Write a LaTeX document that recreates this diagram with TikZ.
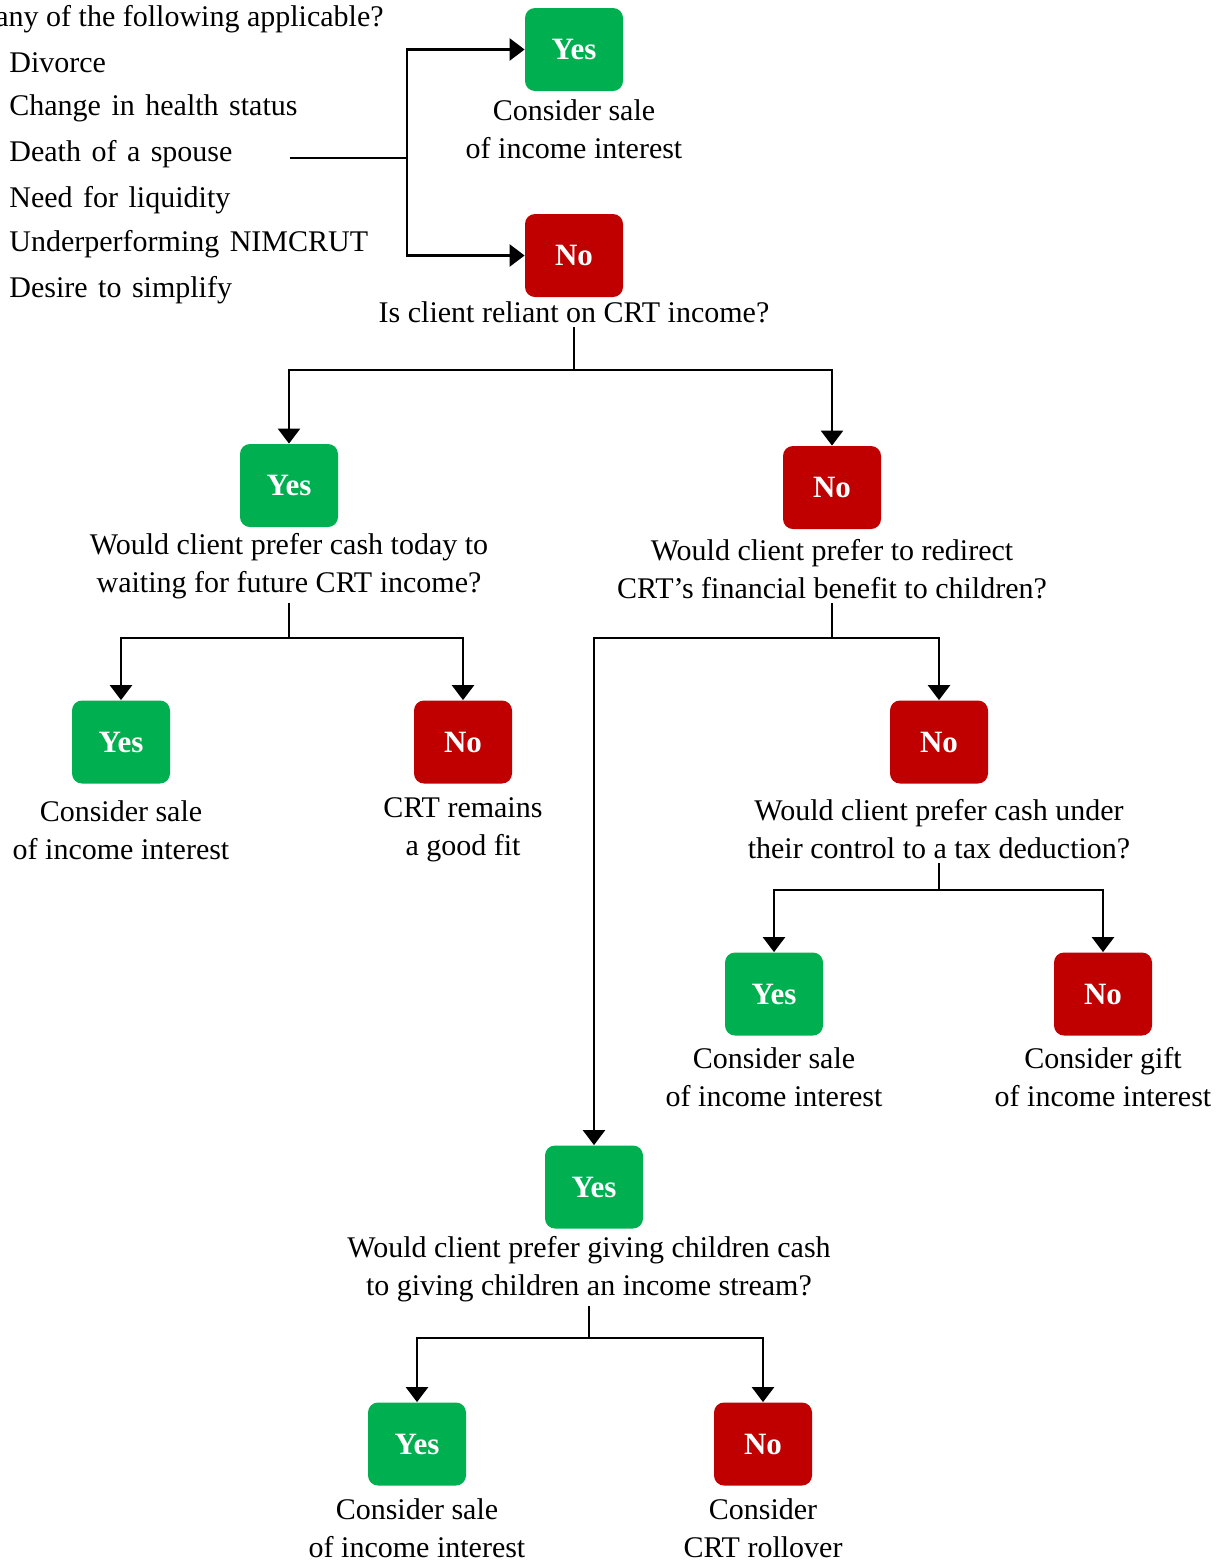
\documentclass[tikz,border=0pt]{standalone}
\usepackage{fontspec}
\setmainfont{Liberation Serif}
\newfontfamily\itemfont[WordSpace=1.4]{Liberation Serif}
\usetikzlibrary{arrows.meta}
\definecolor{yesgreen}{HTML}{00B050}
\definecolor{nored}{HTML}{C00000}
\begin{document}
\begin{tikzpicture}[x=0.5pt,y=-0.5pt,
 box/.style={rounded corners=5pt, minimum width=49pt, minimum height=41.5pt, text=white, font=\fontsize{15.5}{18}\selectfont\bfseries, inner sep=0pt},
 yesbox/.style={box, fill=yesgreen},
 nobox/.style={box, fill=nored},
 lbl/.style={align=center, font=\fontsize{15}{19}\selectfont, inner sep=2pt},
 item/.style={anchor=west, font=\itemfont\fontsize{15}{19}\selectfont, inner sep=0pt},
 arr/.style={line width=1.25pt, -{Triangle[width=11pt,length=7.5pt]}},
 ln/.style={line width=1.25pt}]
\useasboundingbox[fill=white] (0,0) rectangle (1228,1564);
\begin{scope}
\clip (0,0) rectangle (1228,1564);
\node[anchor=east, font=\fontsize{15}{19}\selectfont, inner sep=0pt] (title) at (384,19) {Are any of the following applicable?};
\end{scope}
\node[item] (i1) at (9,63) {Divorce};
\node[item] (i2) at (9,108) {Change in health status};
\node[item] (i3) at (9,154) {Death of a spouse};
\node[item] (i4) at (9,200) {Need for liquidity};
\node[item] (i5) at (9,244) {Underperforming NIMCRUT};
\node[item] (i6) at (9,290) {Desire to simplify};

\node[yesbox] (yes1) at (574,49.5) {Yes};
\node[nobox] (no1) at (574,255.5) {No};
\node[lbl] (l1) at (574,129) {Consider sale\\of income interest};
\node[lbl] (q1) at (574,312) {Is client reliant on CRT income?};

\coordinate (ls) at (290,158);
\coordinate (lj) at (407,158);
\draw[ln] (ls) -- (lj);
\draw[arr] (lj) |- (yes1);
\draw[arr] (lj) |- (no1);

\coordinate (j1) at (574,370);
\draw[ln] (q1.south) -- (j1);
\node[yesbox] (yes2) at (289,485.5) {Yes};
\node[nobox] (no2) at (832,487.5) {No};
\draw[arr] (j1) -| (yes2);
\draw[arr] (j1) -| (no2);

\node[lbl] (q3) at (289,566) {Would client prefer cash today to\\waiting for future CRT income?};
\node[lbl] (q4) at (832,569) {Would client prefer to redirect\\CRT’s financial benefit to children?};

\coordinate (j2) at (289,638);
\draw[ln] (q3.south) -- (j2);
\node[yesbox] (yes3) at (121,742) {Yes};
\node[nobox] (no3) at (463,742) {No};
\draw[arr] (j2) -| (yes3);
\draw[arr] (j2) -| (no3);
\node[lbl] (l3) at (121,830) {Consider sale\\of income interest};
\node[lbl] (l4) at (463,830) {CRT remains\\a good fit};

\coordinate (j3) at (832,638);
\draw[ln] (q4.south) -- (j3);
\node[nobox] (no4) at (939,742) {No};
\node[yesbox] (yes6) at (594,1187) {Yes};
\draw[arr] (j3) -| (no4);
\draw[arr] (j3) -| (yes6);

\node[lbl] (q5) at (939,829) {Would client prefer cash under\\their control to a tax deduction?};
\coordinate (j4) at (939,890);
\draw[ln] (q5.south) -- (j4);
\node[yesbox] (yes5) at (774,994) {Yes};
\node[nobox] (no5) at (1103,994) {No};
\draw[arr] (j4) -| (yes5);
\draw[arr] (j4) -| (no5);
\node[lbl] (l5) at (774,1077) {Consider sale\\of income interest};
\node[lbl] (l6) at (1103,1077) {Consider gift\\of income interest};

\node[lbl] (q6) at (589,1269) {Would client prefer giving children cash\\to giving children an income stream?};
\coordinate (j5) at (589,1338);
\draw[ln] (q6.south) -- (j5);
\node[yesbox] (yes7) at (417,1444) {Yes};
\node[nobox] (no7) at (763,1444) {No};
\draw[arr] (j5) -| (yes7);
\draw[arr] (j5) -| (no7);
\node[lbl] (l7) at (417,1528) {Consider sale\\of income interest};
\node[lbl] (l8) at (763,1528) {Consider\\CRT rollover};
\end{tikzpicture}
\end{document}
